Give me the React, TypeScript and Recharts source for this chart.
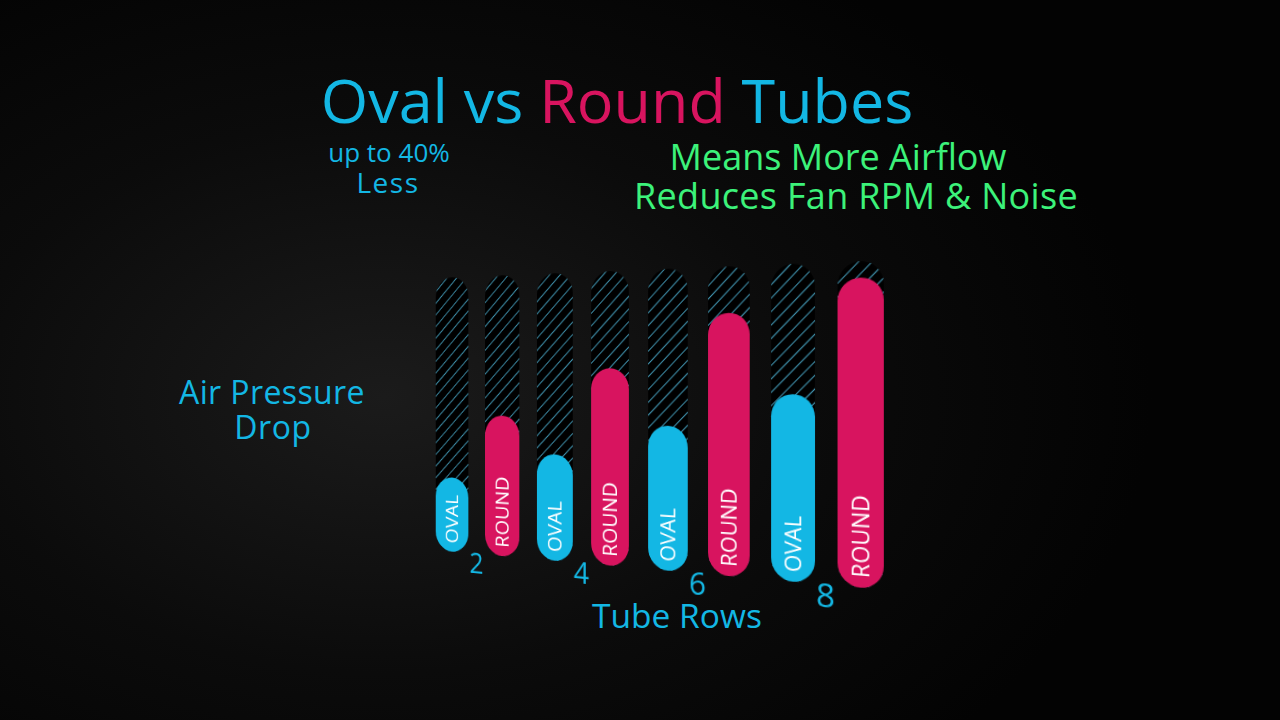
import { ReactElement } from "react";
import { Bar, BarChart, LabelList, XAxis, YAxis } from "recharts";

const tubeRows = ["2", "4", "6", "8"];
const ovalDrop = [27, 37, 48, 59];
const roundDrop = [50, 67, 85, 95];

const BLUE = "#13b7e4";
const PINK = "#d8145f";
const GREEN = "#3cf27a";
const FONT = "'Open Sans', 'Noto Sans', sans-serif";

const data = tubeRows.map((rows, i) => ({
  rows,
  oval: ovalDrop[i],
  round: roundDrop[i],
}));

function RowTick(props: any): ReactElement {
  const { x, y, payload } = props;
  return (
    <text
      x={x}
      y={y + 1}
      fill={BLUE}
      fontSize={31}
      fontFamily={FONT}
      textAnchor="middle"
      dominantBaseline="central"
    >
      {payload.value}
    </text>
  );
}

function tubeLabel(text: string) {
  return function TubeLabel(props: any): ReactElement {
    const { x, y, width, height } = props;
    const cx = x + width / 2;
    const by = y + height - 9;
    return (
      <text
        x={cx}
        y={by}
        fill="#ffffff"
        fontSize={21}
        fontFamily={FONT}
        textAnchor="start"
        dominantBaseline="central"
        transform={`rotate(-90, ${cx}, ${by})`}
      >
        {text}
      </text>
    );
  };
}

export default function App(): ReactElement {
  return (
    <div
      style={{
        position: "absolute",
        left: 0,
        top: 0,
        width: 1280,
        height: 720,
        overflow: "hidden",
        background:
          "radial-gradient(ellipse 60% 70% at 30% 55%, #1b1b1b 0%, #0b0b0b 55%, #030303 100%)",
      }}
    >
      <svg
        width={1280}
        height={720}
        style={{ position: "absolute", left: 0, top: 0 }}
        fontFamily={FONT}
      >
        <text x={617} y={123} fontSize={61} textAnchor="middle" fill={BLUE}>
          <tspan>Oval vs </tspan>
          <tspan fill={PINK}>Round</tspan>
          <tspan> Tubes</tspan>
        </text>
        <text x={389} y={162} fontSize={26} textAnchor="middle" fill={BLUE}>
          up to 40%
        </text>
        <text x={388} y={193} fontSize={28} letterSpacing={1.5} textAnchor="middle" fill={BLUE}>
          Less
        </text>
        <text x={838} y={170} fontSize={36} textAnchor="middle" fill={GREEN}>
          Means More Airflow
        </text>
        <text x={856} y={209} fontSize={36} letterSpacing={0.3} textAnchor="middle" fill={GREEN}>
          Reduces Fan RPM &amp; Noise
        </text>
        <text x={272} y={404} fontSize={32} letterSpacing={0.4} textAnchor="middle" fill={BLUE}>
          Air Pressure
        </text>
        <text x={273} y={439} fontSize={32} letterSpacing={0.6} textAnchor="middle" fill={BLUE}>
          Drop
        </text>
        <text x={677} y={628} fontSize={33.5} textAnchor="middle" fill={BLUE}>
          Tube Rows
        </text>
      </svg>

      <div
        style={{
          position: "absolute",
          left: 386.3,
          top: 270.4,
          width: 504,
          height: 338,
          transform: "perspective(1000px) rotateY(-23.2deg)",
          transformOrigin: "252px 92.3px",
        }}
      >
        <BarChart
          width={504}
          height={338}
          data={data}
          margin={{ top: 0, right: 0, bottom: 0, left: 0 }}
          barSize={42}
          barGap={21}
          barCategoryGap={10.5}
        >
          <defs>
            <pattern
              id="hatch"
              patternUnits="userSpaceOnUse"
              width={9}
              height={9}
              patternTransform="rotate(45)"
            >
              <rect width={9} height={9} fill="#000000" />
              <line x1={0} y1={0} x2={0} y2={9} stroke="#4aaccc" strokeWidth={1.8} />
            </pattern>
          </defs>
          <XAxis
            dataKey="rows"
            height={40}
            axisLine={false}
            tickLine={false}
            tick={<RowTick />}
            interval={0}
          />
          <YAxis hide domain={[0, 100]} />
          <Bar
            dataKey="oval"
            fill={BLUE}
            radius={21}
            background={{ fill: "url(#hatch)", radius: 21 }}
            isAnimationActive={false}
          >
            <LabelList dataKey="oval" content={tubeLabel("OVAL")} />
          </Bar>
          <Bar
            dataKey="round"
            fill={PINK}
            radius={21}
            background={{ fill: "url(#hatch)", radius: 21 }}
            isAnimationActive={false}
          >
            <LabelList dataKey="round" content={tubeLabel("ROUND")} />
          </Bar>
        </BarChart>
      </div>
    </div>
  );
}
